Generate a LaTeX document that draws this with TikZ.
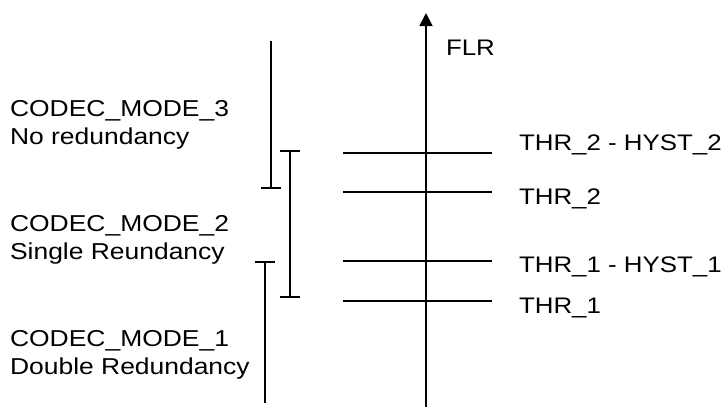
\documentclass[tikz,border=0pt]{standalone}
\usepackage{fontspec}
\setmainfont{Liberation Sans}
\usetikzlibrary{arrows.meta}

\tikzset{modetick/.tip={Bar[width=20pt,line width=1.8pt]}}

\begin{document}
\begin{tikzpicture}[x=1pt,y=-1pt,line width=1.8pt,
  txt/.style={inner sep=0pt, xscale=1.15, font=\fontsize{22.5}{28}\selectfont, align=left, anchor=base west},
  modetxt/.style={txt, font=\fontsize{23}{28}\selectfont},
  modebar/.style={line width=1.8pt}]
  \useasboundingbox (0,0) rectangle (723,407);
  % FLR axis
  \coordinate (axbot) at (426,407);
  \coordinate (axtop) at (426,13);
  \draw[-{Triangle[length=13pt,width=13pt]}] (axbot) -- (axtop);
  \node[txt] (flr) at (445,55) {FLR};
  % Threshold levels
  \coordinate (lvA) at (343,153);
  \coordinate (lvB) at (343,192);
  \coordinate (lvC) at (343,261);
  \coordinate (lvD) at (343,301);
  \coordinate (lvAend) at (492,153);
  \coordinate (lvBend) at (492,192);
  \coordinate (lvCend) at (492,261);
  \coordinate (lvDend) at (492,301);
  \draw (lvA) -- (lvAend);
  \draw (lvB) -- (lvBend);
  \draw (lvC) -- (lvCend);
  \draw (lvD) -- (lvDend);
  \node[txt] (thrtwohyst) at (518,150) {THR\_2 - HYST\_2};
  \node[txt] (thrtwo) at (518,204) {THR\_2};
  \node[txt] (thronehyst) at (518,272) {THR\_1 - HYST\_1};
  \node[txt] (throne) at (518,313) {THR\_1};
  % Codec mode ranges
  \coordinate (mthreetop) at (271,41);
  \coordinate (mthreebot) at (271,189);
  \coordinate (mtwotop) at (290,150);
  \coordinate (mtwobot) at (290,298);
  \coordinate (monetop) at (265,261);
  \coordinate (monebot) at (265,403);
  \draw[modebar, -modetick] (mthreetop) -- (mthreebot);
  \draw[modebar, modetick-modetick] (mtwotop) -- (mtwobot);
  \draw[modebar, modetick-] (monetop) -- (monebot);
  % labels: base anchor sits on the last line
  \node[modetxt] (modethree) at (9,144) {CODEC\_MODE\_3\\No redundancy};
  \node[modetxt] (modetwo) at (9,259) {CODEC\_MODE\_2\\Single Reundancy};
  \node[modetxt] (modeone) at (9,374) {CODEC\_MODE\_1\\Double Redundancy};
\end{tikzpicture}
\end{document}
